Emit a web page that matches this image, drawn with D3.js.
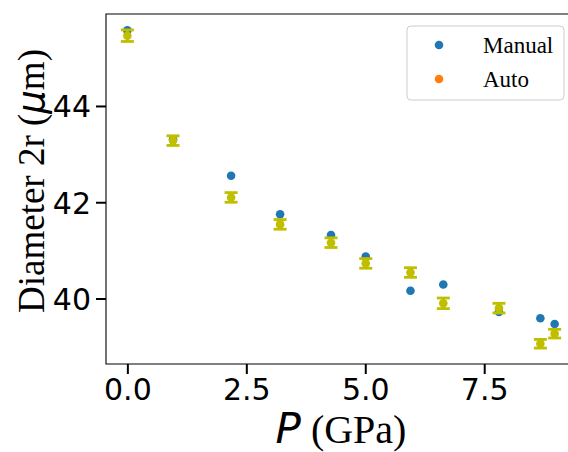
<!DOCTYPE html>
<html>
<head>
<meta charset="utf-8">
<script src="https://cdn.jsdelivr.net/npm/d3@7"></script>
<style>
  body { margin: 0; background: #fff; }
  .tick text { font-family: "DejaVu Sans", sans-serif; font-size: 30px; fill: #000; }
  .tick line { stroke: #000; stroke-width: 2px; }
</style>
</head>
<body>
<div id="chart"></div>
<script>
/* data */
const pressure = [0.0, 0.96, 2.18, 3.21, 4.28, 5.01, 5.95, 6.64, 7.81, 8.68, 8.98];
const manualD  = [45.57, 43.31, 42.55, 41.75, 41.32, 40.87, 40.16, 40.29, 39.72, 39.59, 39.47];
const autoD    = [45.46, 43.28, 42.10, 41.54, 41.16, 40.73, 40.54, 39.90, 39.80, 39.06, 39.27];
const autoErr  = [0.12, 0.10, 0.10, 0.10, 0.10, 0.10, 0.10, 0.11, 0.10, 0.09, 0.09];
const xTicks = [0, 2.5, 5, 7.5];
const yTicks = [40, 42, 44];
const seriesNames = ["Manual", "Auto"];
const seriesColors = ["#1f77b4", "#ff7f0e"];
const autoPlotColor = "#bfbf00";

const width = 568, height = 452;
const margin = {top: 14, left: 106, right: -8, bottom: 88};

const svg = d3.select("#chart")
    .append("svg")
    .attr("width", width)
    .attr("height", height);

/* scales, with matplotlib-like 5% padding */
const xPad = (d3.max(pressure) - d3.min(pressure)) * 0.05;
const allY = manualD.concat(autoD.map((d, i) => d - autoErr[i]), autoD.map((d, i) => d + autoErr[i]));
const yPad = (d3.max(allY) - d3.min(allY)) * 0.05;

const xScale = d3.scaleLinear()
    .domain([d3.min(pressure) - xPad, d3.max(pressure) + xPad])
    .range([margin.left, width - margin.right]);

const yScale = d3.scaleLinear()
    .domain([d3.min(allY) - yPad, d3.max(allY) + yPad])
    .range([height - margin.bottom, margin.top]);

/* axes */
const xAxis = svg.append("g")
    .attr("transform", `translate(0,${height - margin.bottom})`)
    .call(d3.axisBottom(xScale).tickValues(xTicks).tickFormat(d3.format(".1f")).tickSize(10).tickPadding(5));
xAxis.select(".domain").remove();

const yAxis = svg.append("g")
    .attr("transform", `translate(${margin.left},0)`)
    .call(d3.axisLeft(yScale).tickValues(yTicks).tickFormat(d3.format("d")).tickSize(10).tickPadding(5));
yAxis.select(".domain").remove();
yAxis.selectAll(".tick text").attr("dy", "0.36em");

/* spines */
const x0 = xScale.range()[0], x1 = xScale.range()[1];
const y0 = yScale.range()[1], y1 = yScale.range()[0];
svg.append("path")
    .attr("d", `M${x1},${y0}H${x0}V${y1}H${x1}`)
    .attr("fill", "none")
    .attr("stroke", "#000")
    .attr("stroke-width", 1.1);

/* manual points */
svg.append("g").selectAll("circle")
    .data(pressure)
    .enter()
    .append("circle")
        .attr("cx", d => xScale(d))
        .attr("cy", (d, i) => yScale(manualD[i]))
        .attr("r", 4.3)
        .attr("fill", seriesColors[0]);

/* auto points with error bars */
const auto = svg.append("g").selectAll("g")
    .data(pressure)
    .enter()
    .append("g");

auto.append("line")
    .attr("x1", d => xScale(d)).attr("x2", d => xScale(d))
    .attr("y1", (d, i) => yScale(autoD[i] - autoErr[i]))
    .attr("y2", (d, i) => yScale(autoD[i] + autoErr[i]))
    .attr("stroke", autoPlotColor)
    .attr("stroke-width", 2.5);

[-1, 1].forEach(function(s) {
    auto.append("line")
        .attr("x1", d => xScale(d) - 6.5).attr("x2", d => xScale(d) + 6.5)
        .attr("y1", (d, i) => yScale(autoD[i] + s * autoErr[i]))
        .attr("y2", (d, i) => yScale(autoD[i] + s * autoErr[i]))
        .attr("stroke", autoPlotColor)
        .attr("stroke-width", 2.8);
});

auto.append("circle")
    .attr("cx", d => xScale(d))
    .attr("cy", (d, i) => yScale(autoD[i]))
    .attr("r", 4.3)
    .attr("fill", autoPlotColor);

/* axis labels */
const xLabel = svg.append("text")
    .attr("x", (x0 + x1) / 2)
    .attr("y", 443)
    .attr("text-anchor", "middle");
xLabel.append("tspan")
    .style("font-family", "DejaVu Sans").style("font-style", "italic").style("font-size", "42px")
    .text("P");
xLabel.append("tspan")
    .style("font-family", "Liberation Serif").style("font-size", "40px")
    .text(" (GPa)");

const yLabel = svg.append("text")
    .attr("transform", `translate(44,${(y0 + y1) / 2 - 8}) rotate(-90)`)
    .attr("text-anchor", "middle")
    .style("font-family", "Liberation Serif")
    .style("font-size", "37px");
yLabel.append("tspan").text("Diameter 2r (");
yLabel.append("tspan").style("font-family", "DejaVu Sans").style("font-style", "italic").text("μ");
yLabel.append("tspan").text("m)");

/* legend */
const legend = svg.append("g");
legend.append("rect")
    .attr("x", 407).attr("y", 26)
    .attr("width", 157).attr("height", 74)
    .attr("rx", 4)
    .attr("fill", "#fff").attr("fill-opacity", 0.8)
    .attr("stroke", "#cccccc").attr("stroke-width", 1);

const items = legend.selectAll(".item")
    .data(seriesNames)
    .enter()
    .append("g")
    .attr("transform", (d, i) => `translate(0,${i * 34})`);
items.append("circle")
    .attr("cx", 439).attr("cy", 45)
    .attr("r", 4.3)
    .attr("fill", (d, i) => seriesColors[i]);
items.append("text")
    .attr("x", 483).attr("y", 53)
    .style("font-family", "Liberation Serif")
    .style("font-size", "23px")
    .text(d => d);
</script>
</body>
</html>
